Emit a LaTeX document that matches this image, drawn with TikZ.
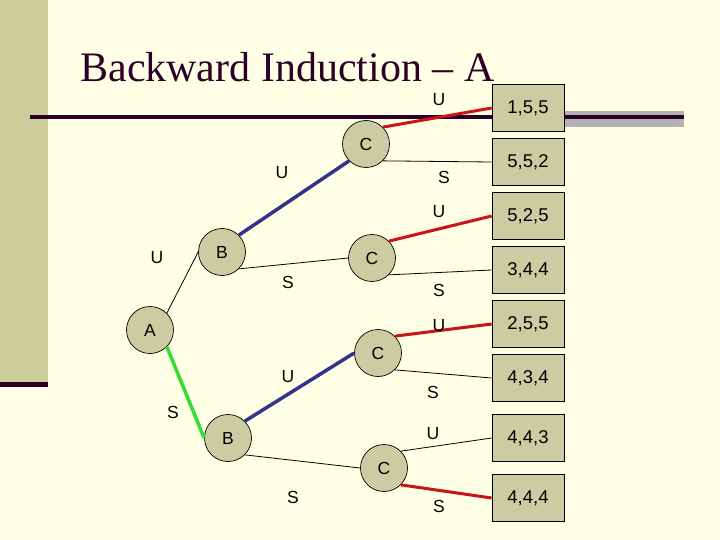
\documentclass[tikz,border=0pt]{standalone}
\usepackage{fontspec}
\setmainfont{Liberation Serif}
\setsansfont{Liberation Sans}
\usepackage{xcolor}
\usetikzlibrary{math}

\definecolor{slidebg}{RGB}{255,255,229}
\definecolor{sidebar}{RGB}{204,204,153}
\definecolor{nodefill}{RGB}{204,204,163}
\definecolor{titlecol}{RGB}{45,0,40}
\definecolor{rulegrey}{RGB}{178,178,178}
\definecolor{redmove}{RGB}{204,20,20}
\definecolor{bluemove}{RGB}{51,51,140}
\definecolor{greenmove}{RGB}{51,221,51}

\tikzset{
  player/.style={circle, draw, fill=nodefill, minimum size=47pt, inner sep=0pt,
    line width=0.7pt, font=\sffamily\fontsize{17.5}{20}\selectfont},
  payoff/.style={rectangle, draw, fill=nodefill, minimum width=72pt,
    minimum height=47pt, inner sep=0pt, line width=0.7pt,
    font=\sffamily\fontsize{18.5}{21}\selectfont},
  move/.style={inner sep=0pt, font=\sffamily\fontsize{17.5}{20}\selectfont},
  plain/.style={line width=0.8pt},
  redline/.style={line width=3pt, draw=redmove},
  blueline/.style={line width=3.5pt, draw=bluemove},
  greenline/.style={line width=3.5pt, draw=greenmove},
}

\begin{document}
\begin{tikzpicture}[x=1pt,y=-1pt,line width=0.7pt]

  \tikzmath{
    \boxx = 528; % centre of the payoff column
  }

  % slide background
  \useasboundingbox (0,0) rectangle (720,540);
  \fill[slidebg] (0,0) rectangle (720,540);
  \fill[sidebar] (0,0) rectangle (48,382);
  \fill[titlecol] (0,382) rectangle (48,387);
  \fill[rulegrey] (565,111) rectangle (684,127);
  \draw[titlecol, line width=4pt] (30,117) -- (684,117);

  % title
  \node[anchor=base west, inner sep=0pt, text=titlecol,
    font=\rmfamily\fontsize{42}{48}\selectfont] (title) at (80,82)
    {Backward Induction -- A};

  % players
  \node[player] (A)  at (150,330) {A};
  \node[player] (B1) at (222,252) {B};
  \node[player] (B2) at (228,438) {B};
  \node[player] (C1) at (366,144) {C};
  \node[player] (C2) at (372,258) {C};
  \node[player] (C3) at (378,353) {C};
  \node[player] (C4) at (384,468) {C};

  % payoffs
  \node[payoff] (P1) at (\boxx,108) {1,5,5};
  \node[payoff] (P2) at (\boxx,162) {5,5,2};
  \node[payoff] (P3) at (\boxx,216) {5,2,5};
  \node[payoff] (P4) at (\boxx,270) {3,4,4};
  \node[payoff] (P5) at (\boxx,324) {2,5,5};
  \node[payoff] (P6) at (\boxx,378) {4,3,4};
  \node[payoff] (P7) at (\boxx,438) {4,4,3};
  \node[payoff] (P8) at (\boxx,498) {4,4,4};

  % moves of A
  \draw[plain] (A.45) -- (B1.west);
  \draw[greenline] (A.-45) -- (B2.west);
  \node[move] (aU) at (157,258) {U};
  \node[move] (aS) at (173,412) {S};

  % moves of B
  \draw[blueline] (B1.45) -- (C1.225);
  \draw[plain] (B1.-45) -- (C2.west);
  \draw[blueline] (B2.45) -- (C3.west);
  \draw[plain] (B2.-45) -- (C4.west);
  \node[move] (b1U) at (282,173) {U};
  \node[move] (b1S) at (288,282) {S};
  \node[move] (b2U) at (288,377) {U};
  \node[move] (b2S) at (293,497) {S};

  % moves of C
  \draw[redline] (C1.45) -- (P1.west);
  \draw[plain] (C1.-45) -- (P2.west);
  \draw[redline] (C2.45) -- (P3.west);
  \draw[plain] (C2.-45) -- (P4.west);
  \draw[redline] (C3.45) -- (P5.west);
  \draw[plain] (C3.-45) -- (P6.west);
  \draw[plain] (C4.45) -- (P7.west);
  \draw[redline] (C4.-45) -- (P8.west);
  \node[move] (c1U) at (439,100) {U};
  \node[move] (c1S) at (444,177) {S};
  \node[move] (c2U) at (439,212) {U};
  \node[move] (c2S) at (439,290) {S};
  \node[move] (c3U) at (439,326) {U};
  \node[move] (c3S) at (433,392) {S};
  \node[move] (c4U) at (433,434) {U};
  \node[move] (c4S) at (439,506) {S};

\end{tikzpicture}
\end{document}
